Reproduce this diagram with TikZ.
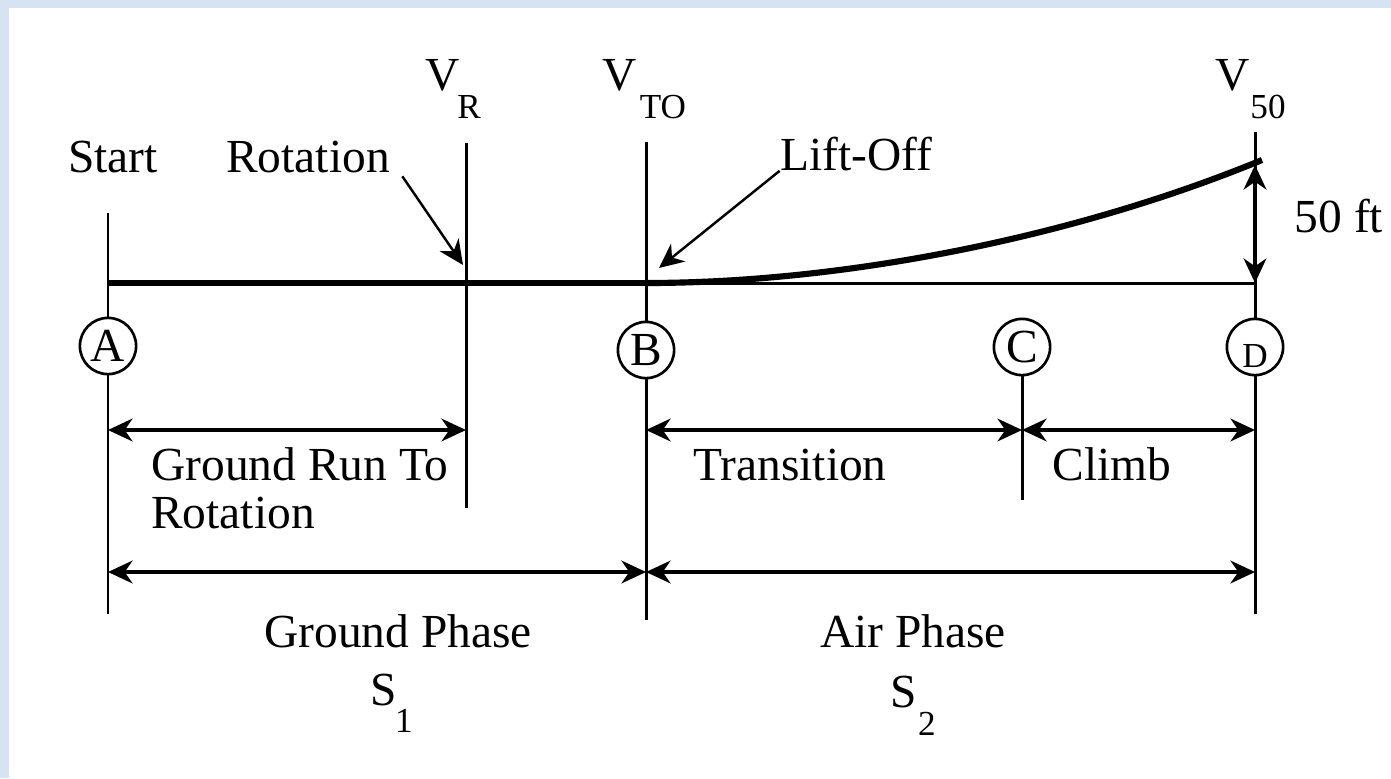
\documentclass[tikz,border=0pt]{standalone}
\usepackage{fontspec}
\setmainfont{Liberation Serif}
\usetikzlibrary{arrows.meta}
\definecolor{slideblue}{RGB}{214,227,242}
\begin{document}
\begin{tikzpicture}[x=0.02cm, y=-0.02cm, >={Stealth[length=14pt,width=13pt,inset=4.5pt]},
  vline/.style={line width=1.7pt},
  groundline/.style={line width=3.5pt},
  dimline/.style={line width=1.8pt, <->},
  callout/.style={line width=1.4pt, ->},
  lbl/.style={font=\fontsize{27}{32}\selectfont, inner sep=0pt, anchor=base},
  sublbl/.style={font=\fontsize{20}{24}\selectfont, inner sep=0pt, anchor=base},
  station/.style={circle, draw, fill=white, line width=1.5pt, minimum size=32pt,
    inner sep=0pt, font=\fontsize{27}{32}\selectfont}]
  % slide background
  \fill[slideblue] (0,0) rectangle (1391,778);
  \fill[white] (9,8) rectangle (1391,778);

  \coordinate (A0) at (108,213);
  \coordinate (A1) at (108,614);
  \coordinate (R0) at (466,143);
  \coordinate (R1) at (466,508);
  \coordinate (B0) at (646,142);
  \coordinate (B1) at (646,620);
  \coordinate (C1) at (1022,500);
  \coordinate (D0) at (1255,132);
  \coordinate (D1) at (1255,614);

  \coordinate (G0) at (108,283);
  \coordinate (LO) at (646,283);
  \coordinate (GD) at (1255,283);
  \coordinate (top) at (1262,160);
  \coordinate (h50) at (1255,165);

  \draw[vline] (A0) -- (A1);
  \draw[vline] (R0) -- (R1);
  \draw[vline] (B0) -- (B1);
  \draw[vline] (D0) -- (D1);

  \draw[groundline] (G0) -- (LO);
  \draw[vline] (LO) -- (GD);
  \draw[groundline] (LO) .. controls (850,283) and (1080,235) .. (top);
  \draw[dimline] (GD) -- (h50);

  \node[station] (A) at (108,346) {A};
  \node[station] (B) at (646,350) {B};
  \node[station] (C) at (1022,347) {C};
  \node[station] (D) at (1255,347) {};
  \node[sublbl, anchor=center] (Dtext) at ([yshift=-5pt]D.center) {D};
  \draw[vline] (C.south) -- (C1);

  % distances
  \coordinate (a1) at (108,430);
  \coordinate (r1) at (466,430);
  \coordinate (b1) at (646,430);
  \coordinate (c1) at (1022,430);
  \coordinate (d1) at (1255,430);
  \coordinate (a2) at (108,572);
  \coordinate (b2) at (646,572);
  \coordinate (d2) at (1255,572);
  \draw[dimline] (a1) -- (r1);
  \draw[dimline] (b1) -- (c1);
  \draw[dimline] (c1) -- (d1);
  \draw[dimline] (a2) -- (b2);
  \draw[dimline] (b2) -- (d2);

  % labels
  \node[lbl] (startlbl) at (113,172) {Start};
  \node[lbl] (rotlbl) at (308,172) {Rotation};
  \node[lbl] (liftlbl) at (856,170) {Lift-Off};
  \coordinate (rottip) at (463,265);
  \coordinate (lifttip) at (659,268);
  \draw[callout] ([xshift=7pt,yshift=-2pt]rotlbl.south east) -- (rottip);
  \draw[callout] (liftlbl.south west) -- (lifttip);

  \node[lbl] (vr) at (443,90) {V};
  \node[sublbl] (vrsub) at (469,118) {R};
  \node[lbl] (vto) at (620,90) {V};
  \node[sublbl] (vtosub) at (663,118) {TO};
  \node[lbl] (vfifty) at (1233,90) {V};
  \node[sublbl] (vfiftysub) at (1268,118) {50};
  \node[lbl] (ftlbl) at (1339,232) {50 ft};

  \node[lbl, anchor=base west] (runlbl) at (151,480) {Ground Run To};
  \node[lbl, anchor=base west] (runlbl2) at (151,528) {Rotation};
  \node[lbl] (translbl) at (790,480) {Transition};
  \node[lbl] (climblbl) at (1112,480) {Climb};
  \node[lbl] (gphase) at (398,647) {Ground Phase};
  \node[lbl] (aphase) at (913,647) {Air Phase};
  \node[lbl] (sone) at (384,705) {S};
  \node[sublbl] (sonesub) at (404,732) {1};
  \node[lbl] (stwo) at (904,707) {S};
  \node[sublbl] (stwosub) at (927,735) {2};
\end{tikzpicture}
\end{document}
